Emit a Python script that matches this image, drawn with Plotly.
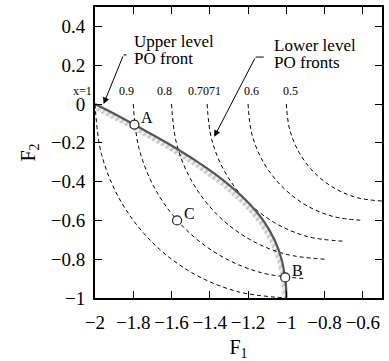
import plotly.graph_objects as go

# ---------------- data ----------------
# lower-level PO fronts, one per upper-level variable x
ll_labels = ["x=1", "0.9", "0.8", "0.7071", "0.6", "0.5"]

ll1_f1 = [-2.0, -1.966, -1.866, -1.707, -1.5, -1.259, -1.0]
ll1_f2 = [0.0, -0.259, -0.5, -0.707, -0.866, -0.966, -1.0]
ll09_f1 = [-1.8, -1.769, -1.679, -1.536, -1.35, -1.133, -0.9]
ll09_f2 = [0.0, -0.233, -0.45, -0.636, -0.779, -0.869, -0.9]
ll08_f1 = [-1.6, -1.573, -1.493, -1.366, -1.2, -1.007, -0.8]
ll08_f2 = [0.0, -0.207, -0.4, -0.566, -0.693, -0.773, -0.8]
ll07_f1 = [-1.414, -1.390, -1.319, -1.207, -1.061, -0.890, -0.707]
ll07_f2 = [0.0, -0.183, -0.354, -0.5, -0.612, -0.683, -0.707]
ll06_f1 = [-1.2, -1.180, -1.120, -1.024, -0.9, -0.755, -0.6]
ll06_f2 = [0.0, -0.155, -0.3, -0.424, -0.520, -0.580, -0.6]
ll05_f1 = [-1.0, -0.983, -0.933, -0.854, -0.75, -0.629, -0.5]
ll05_f2 = [0.0, -0.129, -0.25, -0.354, -0.433, -0.483, -0.5]

# upper-level PO front
ul_f1 = [-2.0, -1.90, -1.806, -1.625, -1.462, -1.321, -1.207, -1.121, -1.062, -1.025, -1.006, -1.001, -1.0]
ul_f2 = [0.0, -0.05, -0.1, -0.2, -0.3, -0.4, -0.5, -0.6, -0.7, -0.8, -0.9, -0.95, -1.0]

# marked points
pt_names = ["A", "B", "C"]
pt_f1 = [-1.794, -1.006, -1.571]
pt_f2 = [-0.106, -0.894, -0.6]

x_ticks = [-2, -1.8, -1.6, -1.4, -1.2, -1, -0.8, -0.6]
y_ticks = [-1, -0.8, -0.6, -0.4, -0.2, 0, 0.2, 0.4]

# ---------------- styling / layout constants ----------------
SERIF = "Liberation Serif"
hatch_off = 0.02
label_x = [-2.067, -1.834, -1.637, -1.429, -1.18, -0.978]
label_y = 0.067

fig = go.Figure()

# hatched band on the lower-left side of the upper-level front
band_x = ul_f1 + [v - hatch_off for v in ul_f1[::-1]]
band_y = ul_f2 + [v - hatch_off for v in ul_f2[::-1]]
fig.add_trace(go.Scatter(
    x=band_x, y=band_y, mode="lines", fill="toself",
    line=dict(width=0, color="rgba(0,0,0,0)"),
    fillcolor="rgba(225,225,225,0.5)",
    fillpattern=dict(shape="/", size=5, solidity=0.45,
                     fgcolor="#9a9a9a", bgcolor="rgba(232,232,232,0.6)"),
    hoverinfo="skip", showlegend=False))

# lower-level fronts (dashed)
for fx, fy in [(ll1_f1, ll1_f2), (ll09_f1, ll09_f2), (ll08_f1, ll08_f2),
               (ll07_f1, ll07_f2), (ll06_f1, ll06_f2), (ll05_f1, ll05_f2)]:
    fig.add_trace(go.Scatter(
        x=fx, y=fy, mode="lines", line_shape="spline",
        line=dict(color="black", width=1, dash="4px,3px"),
        showlegend=False, hoverinfo="skip"))

# upper-level front
fig.add_trace(go.Scatter(
    x=ul_f1, y=ul_f2, mode="lines", line_shape="spline",
    line=dict(color="#555555", width=2.2),
    showlegend=False, hoverinfo="skip"))

# points
fig.add_trace(go.Scatter(
    x=pt_f1, y=pt_f2, mode="markers",
    marker=dict(size=9, color="white", line=dict(color="#222222", width=1.2)),
    showlegend=False, hoverinfo="skip"))

annotations = []
for name, px, py in zip(pt_names, pt_f1, pt_f2):
    annotations.append(dict(x=px, y=py, text=name, showarrow=False,
                            xanchor="left", yanchor="middle",
                            xshift=5, yshift=7,
                            font=dict(family=SERIF, size=16, color="black")))

for lab, lx in zip(ll_labels, label_x):
    if lx < -2:
        annotations.append(dict(x=(lx + 2) / 1.5, xref="paper", y=label_y, text=lab,
                                showarrow=False, xanchor="center", yanchor="middle",
                                font=dict(family=SERIF, size=12, color="black")))
    else:
        annotations.append(dict(x=lx, y=label_y, text=lab, showarrow=False,
                                xanchor="center", yanchor="middle",
                                font=dict(family=SERIF, size=12, color="black")))

# text blocks
for txt, tx, ty in [("Upper level", -1.808, 0.322), ("PO front", -1.808, 0.237),
                    ("Lower level", -1.076, 0.299), ("PO fronts", -1.076, 0.216)]:
    annotations.append(dict(x=tx, y=ty, text=txt, showarrow=False,
                            xanchor="left", yanchor="middle",
                            font=dict(family=SERIF, size=17, color="black")))

# arrows
for tipx, tipy, tx, ty in [(-1.955, 0.0, -1.851, 0.253), (-1.377, -0.169, -1.161, 0.242)]:
    annotations.append(dict(x=tipx, y=tipy, ax=tx, ay=ty, axref="x", ayref="y",
                            text="", showarrow=True, arrowhead=2, arrowsize=1.3,
                            arrowwidth=1, arrowcolor="black"))

shapes = [
    dict(type="line", x0=-1.851, y0=0.253, x1=-1.834, y1=0.253,
         line=dict(color="black", width=1)),
    dict(type="line", x0=-1.161, y0=0.242, x1=-1.118, y1=0.242,
         line=dict(color="black", width=1)),
]

axis_common = dict(showgrid=False, zeroline=False, showline=True, linewidth=2,
                   linecolor="black", mirror="ticks", ticks="inside", ticklen=7,
                   tickwidth=1.3, tickcolor="black",
                   tickfont=dict(family=SERIF, size=19, color="black"))

fig.update_layout(
    width=389, height=361,
    margin=dict(l=95, r=5, t=7, b=63),
    paper_bgcolor="white", plot_bgcolor="white",
    font=dict(family=SERIF),
    xaxis=dict(range=[-2, -0.5], tickvals=x_ticks, ticklabelstandoff=6,
               title=dict(text="F<sub>1</sub>", standoff=8,
                          font=dict(family=SERIF, size=20, color="black")),
               **axis_common),
    yaxis=dict(range=[-1, 0.5], tickvals=y_ticks, ticklabelstandoff=4,
               title=dict(text="F<sub>2</sub>", standoff=10,
                          font=dict(family=SERIF, size=20, color="black")),
               **axis_common),
    annotations=annotations, shapes=shapes,
)

fig.write_html("out.html")
